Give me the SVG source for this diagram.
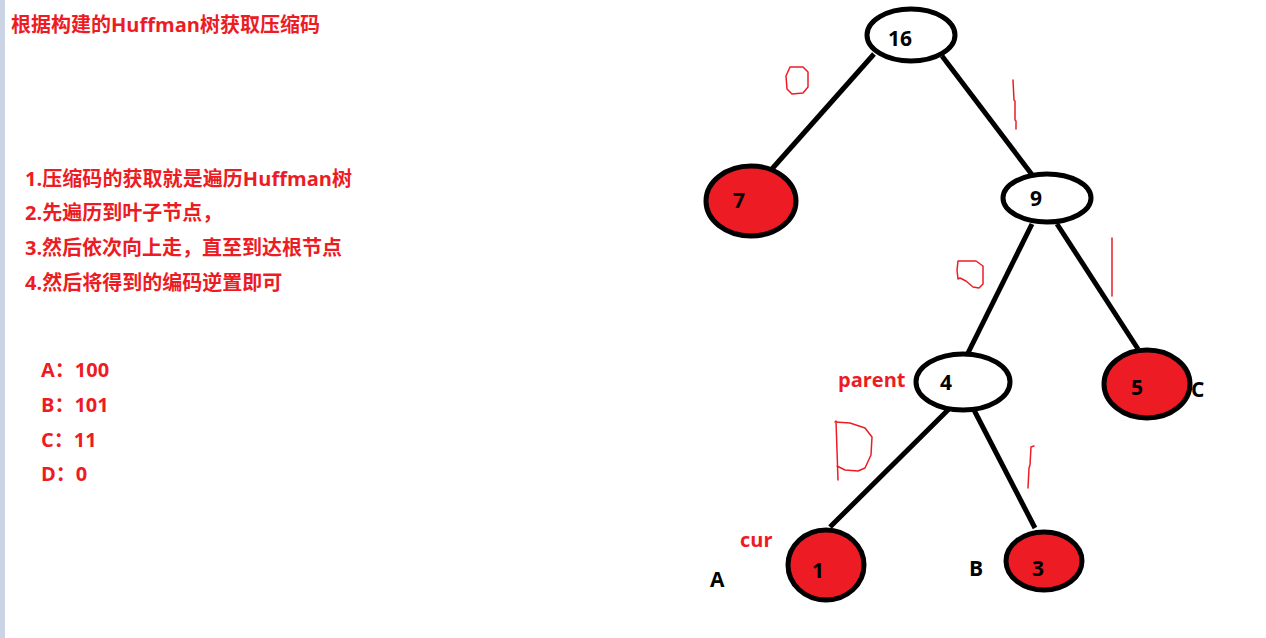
<svg xmlns="http://www.w3.org/2000/svg" width="1266" height="638" viewBox="0 0 1266 638">
<style>
.t{font-family:"Open Sans","Noto Sans CJK SC",sans-serif;font-weight:bold;font-size:20px}
.num{font-size:21px}
.red{fill:#ed1c24}
.blk{fill:#000}
.edge{stroke:#000;stroke-width:5;fill:none;stroke-linecap:butt}
.node{stroke:#000;stroke-width:5}
.hw{stroke:#ed1c24;stroke-width:1.5;fill:none;stroke-linejoin:round;stroke-linecap:round}
</style>
<rect x="0" y="0" width="1266" height="638" fill="#fff"/>
<rect x="0" y="0" width="5" height="638" fill="#cad4e4"/>
<g id="title"><text class="t red" x="11" y="32" textLength="309">根据构建的Huffman树获取压缩码</text></g>
<g id="steps">
<text class="t red" x="25" y="186" textLength="327">1.压缩码的获取就是遍历Huffman树</text>
<text class="t red" x="25" y="220">2.先遍历到叶子节点，</text>
<text class="t red" x="25" y="255" textLength="317">3.然后依次向上走，直至到达根节点</text>
<text class="t red" x="25" y="290">4.然后将得到的编码逆置即可</text>
</g>
<g id="codes">
<text class="t red" x="41" y="377">A：100</text>
<text class="t red" x="41" y="412">B：101</text>
<text class="t red" x="41" y="447">C：11</text>
<text class="t red" x="41" y="481">D：0</text>
</g>
<g id="connectors">
<line class="edge" x1="874" y1="54" x2="771" y2="170"/>
<line class="edge" x1="942" y1="56" x2="1033" y2="176"/>
<line class="edge" x1="1032" y1="224" x2="968" y2="353"/>
<line class="edge" x1="1057" y1="224" x2="1138" y2="349"/>
<path class="edge" d="M950,404 L956,402 L830,527"/>
<line class="edge" x1="974" y1="410" x2="1035" y2="528"/>
</g>
<g id="n16"><ellipse class="node" cx="911" cy="35" rx="44" ry="26" fill="#fff"/><text class="t num blk" x="900" y="46" text-anchor="middle">16</text></g>
<g id="n7"><ellipse class="node" cx="751" cy="201" rx="45" ry="35" fill="#ed1c24"/><text class="t num blk" x="739" y="208" text-anchor="middle">7</text></g>
<g id="n9"><ellipse class="node" cx="1047" cy="198" rx="44" ry="24" fill="#fff"/><text class="t num blk" x="1036" y="206" text-anchor="middle">9</text></g>
<g id="n4"><ellipse class="node" cx="963" cy="382" rx="47" ry="28" fill="#fff"/><text class="t num blk" x="946" y="390" text-anchor="middle">4</text></g>
<g id="n5"><ellipse class="node" cx="1147" cy="384" rx="43" ry="34" fill="#ed1c24"/><text class="t num blk" x="1137" y="395" text-anchor="middle">5</text></g>
<g id="n1"><ellipse class="node" cx="826" cy="565" rx="38" ry="35" fill="#ed1c24"/><text class="t num blk" x="818" y="578" text-anchor="middle">1</text></g>
<g id="n3"><ellipse class="node" cx="1044" cy="561" rx="38" ry="29" fill="#ed1c24"/><text class="t num blk" x="1038" y="576" text-anchor="middle">3</text></g>
<g id="labels">
<text class="t red" x="838" y="387">parent</text>
<text class="t num blk" x="1191" y="397">C</text>
<text class="t red" x="740" y="547">cur</text>
<text class="t num blk" x="710" y="587">A</text>
<text class="t num blk" x="969" y="576">B</text>
</g>
<g id="marks">
<path class="hw" d="M790,67 L803,67 L808,72 L808,87 L803,93 L792,94 L787,89 L786,76 Z"/>
<path class="hw" d="M1013,80 L1014,100 L1015,101 L1015,120 L1016,121 L1016,129"/>
<path class="hw" d="M958,261 L976,261 L983,266 L983,284 L979,288 L973,287 L966,281 L960,278 L958,279 L957,270 Z"/>
<path class="hw" d="M1112,238 L1112,296"/>
<path class="hw" d="M835,422 L850,423 L865,428 L872,437 L871,455 L865,468 L858,471 L845,470 L837,466 M836,421 L838,480"/>
<path class="hw" d="M1034,446 L1031,447 L1030,465 L1029,468 L1028,488"/>
</g>
</svg>
